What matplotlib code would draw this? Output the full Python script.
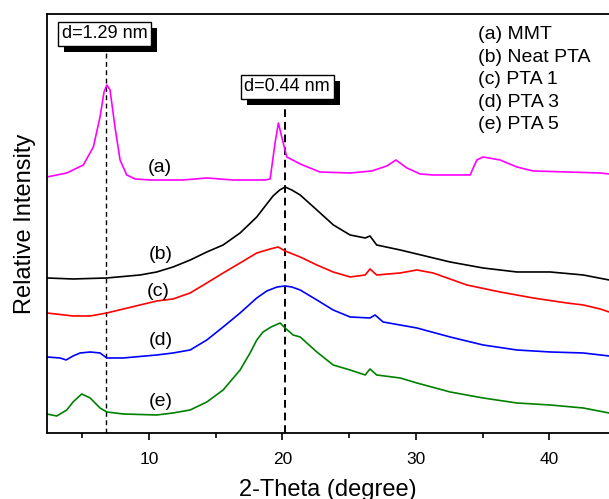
import matplotlib
matplotlib.use("Agg")
import matplotlib.pyplot as plt
import matplotlib.patheffects as pe

plt.rcParams['font.family'] = ['Liberation Sans', 'DejaVu Sans']

# ▶️ XRD data (2-theta in degree, relative intensity in a.u.)
x_a = [2.37, 3.85, 5.09, 5.84, 6.34, 6.64, 6.85, 7.09, 7.46, 7.84, 8.34, 8.97, 10.09, 12.56, 14.34,
       16.3, 18.7, 19.08, 19.45, 19.70, 19.95, 20.33, 21.33, 22.8, 25.07, 26.7, 27.82, 28.5, 29.32,
       30.31, 31.29, 34.06, 34.56, 35.03, 36.3, 37.56, 38.78, 41.3, 43.8, 44.47]
y_a = [256, 260, 268, 286, 316, 341, 348, 343, 306, 273, 258, 254, 253, 253, 255,
       253, 253, 254, 290, 310, 296, 276, 269, 261, 260, 262, 267, 273, 265,
       259, 258, 258, 273, 276, 273, 266, 262, 261, 260, 259]

x_b = [2.35, 4.32, 6.85, 9.34, 10.59, 11.81, 13.1, 14.34, 15.56, 16.83, 18.08, 18.83, 19.3, 19.8, 20.2,
       20.7, 21.33, 22.58, 23.82, 25.07, 26.2, 26.56, 27.06, 28.82, 30.07, 32.56, 35.03, 37.56,
       40.05, 42.53, 44.47]
y_b = [155, 154, 155, 158, 161, 166, 173, 181, 188, 200, 216, 229, 237, 243, 246,
       243, 238, 223, 208, 198, 195, 197, 188, 183, 179, 171, 165, 161,
       161, 158, 153]

x_c = [2.35, 4.32, 5.6, 6.85, 9.34, 10.59, 11.81, 13.09, 14.34, 15.56, 16.83, 18.08, 19.08, 19.68,
       20.2, 21.33, 22.58, 23.8, 25.07, 26.2, 26.56, 27.06, 28.82, 30.07, 31.29, 33.81, 36.3, 38.78,
       41.3, 42.53, 43.8, 44.47]
y_c = [120, 117, 117, 120, 128, 132, 134, 140, 150, 160, 170, 180, 184, 186,
       182, 176, 168, 161, 156, 158, 164, 158, 160, 163, 160, 148, 141, 135,
       130, 128, 124, 121]

x_d = [2.35, 3.35, 3.8, 4.32, 4.85, 5.6, 6.34, 6.85, 8.07, 10.59, 11.81, 13.09, 14.34, 15.56, 16.83,
       18.08, 18.83, 19.6, 20.2, 20.7, 21.33, 22.58, 23.8, 25.07, 26.56, 26.94, 27.54, 30.07, 32.56,
       35.03, 37.56, 40.05, 42.53, 44.47]
y_d = [76, 75, 73, 77, 80, 81, 80, 75, 75, 78, 80, 83, 93, 106, 120,
       135, 142, 146, 147, 146, 143, 133, 123, 116, 115, 118, 111, 105, 96,
       88, 83, 81, 80, 77]

x_e = [2.35, 3.1, 3.85, 4.32, 4.97, 5.6, 6.34, 6.85, 8.07, 10.59, 11.81, 13.09, 14.34, 15.56, 16.83,
       17.58, 18.08, 18.55, 19.15, 19.83, 20.2, 20.8, 21.33, 22.58, 23.8, 25.07, 26.2, 26.56, 27.06,
       28.82, 30.07, 32.56, 35.03, 37.56, 40.05, 42.53, 44.47]
y_e = [19, 17, 23, 31, 39, 35, 25, 21, 19, 18, 20, 23, 31, 43, 63,
       80, 93, 101, 106, 110, 105, 98, 96, 81, 68, 63, 58, 64, 58,
       55, 50, 41, 35, 30, 28, 25, 20]

series_x = [x_a, x_b, x_c, x_d, x_e]
series_y = [y_a, y_b, y_c, y_d, y_e]
colors = ['#ff00ff', 'black', 'red', 'blue', 'green']
curve_tags = ['(a)', '(b)', '(c)', '(d)', '(e)']
tag_x = [10.85, 10.9, 10.7, 10.9, 10.9]
tag_y = [265, 178, 141, 92, 31]

legend_lines = ['(a) MMT', '(b) Neat PTA', '(c) PTA 1', '(d) PTA 3', '(e) PTA 5']

d_labels = ['d=1.29 nm', 'd=0.44 nm']
d_pos = [6.8, 20.2]
d_box_x = [6.68, 20.35]
d_box_y = [399, 346]

fig = plt.figure(figsize=(6.09, 4.99), dpi=100)
ax = fig.add_axes([0.0772, 0.1323, 0.923, 0.8397])

for xs, ys, c in zip(series_x, series_y, colors):
    ax.plot(xs, ys, color=c, lw=1.2)

for t, tx, ty in zip(curve_tags, tag_x, tag_y):
    ax.text(tx, ty, t, fontsize=14, ha='center', va='center')

# 범례 텍스트 (우측 상단)
for i, s in enumerate(legend_lines):
    ax.text(34.66, 398 - i * 22.5, s, fontsize=14, ha='left', va='center')

# d-spacing 점선 + 그림자 박스
ax.vlines(d_pos[0], 0, 390, colors='black', linestyles=(0, (3.5, 2.5)), lw=1.0, zorder=1)
ax.vlines(d_pos[1], 0, 335, colors='black', linestyles=(0, (4, 2.5)), lw=1.4, zorder=1)

for s, bx, by in zip(d_labels, d_box_x, d_box_y):
    t = ax.text(bx, by, s, fontsize=13, ha='center', va='center', zorder=5,
                bbox=dict(boxstyle='square,pad=0.2', fc='white', ec='black', lw=1))
    t.get_bbox_patch().set_path_effects([
        pe.SimplePatchShadow(offset=(4.5, -4.5), shadow_rgbFace='black', alpha=1.0),
        pe.Normal()])

ax.set_xlim(2.37, 44.47)
ax.set_ylim(0, 419)
ax.set_xticks([10, 20, 30, 40])
ax.set_xticks([5, 15, 25, 35], minor=True)
ax.set_yticks([])
ax.tick_params(axis='x', which='major', direction='out', length=5, width=1.2, labelsize=12.5, pad=9)
ax.tick_params(axis='x', which='minor', direction='out', length=3.5, width=1.2)
for sp in ['left', 'bottom', 'top']:
    ax.spines[sp].set_linewidth(1.3)
ax.spines['right'].set_visible(False)

ax.set_xlabel("2-Theta (degree)", fontsize=17, labelpad=8)
ax.set_ylabel("Relative Intensity", fontsize=17, labelpad=8)

plt.savefig("out.png", dpi=100)
